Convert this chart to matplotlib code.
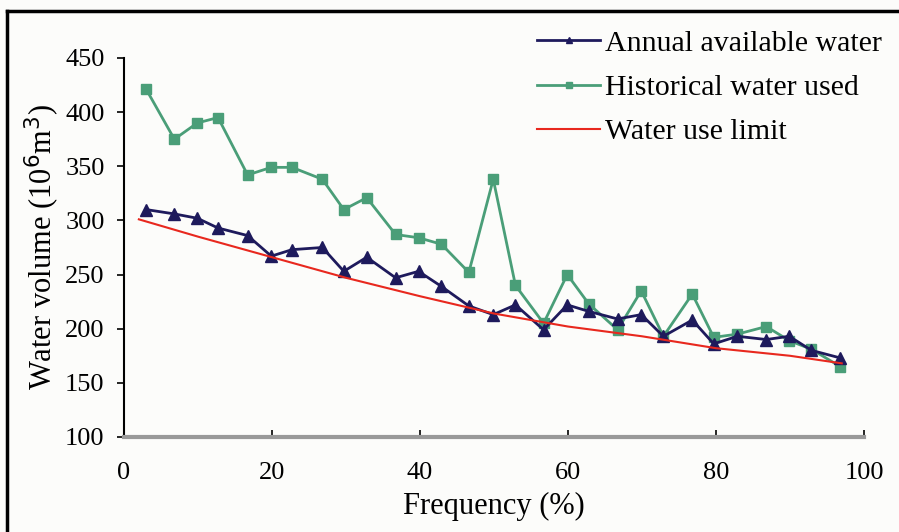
import matplotlib.pyplot as plt
from matplotlib.lines import Line2D

plt.rcParams['font.family'] = ['Liberation Serif', 'DejaVu Serif']

# frequency (%) of each year
freq = [3, 6.8, 9.9, 12.7, 16.7, 19.9, 22.7, 26.8, 29.7, 32.8, 36.7, 39.8, 42.9, 46.6, 49.9,
        52.9, 56.7, 59.9, 62.8, 66.7, 69.9, 72.9, 76.8, 79.7, 82.9, 86.8, 89.9, 92.9, 96.8]

annual = [310, 306, 302, 293, 286, 267, 273, 275, 253, 266, 247, 253, 239, 221, 213,
          222, 199, 222, 216, 209, 213, 193, 208, 186, 193, 190, 193, 180, 173]

historical = [421, 375, 390, 395, 342, 349, 349, 338, 310, 321, 287, 284, 278, 252, 338,
              240, 205, 250, 223, 199, 235, 193, 232, 192, 195, 202, 189, 181, 165]

limit_freq = [2, 10, 20, 30, 40, 50, 60, 70, 80, 90, 97]
limit = [301, 285, 266, 247, 230, 214, 202, 193, 182, 175, 168]

navy = '#1e1a5c'
green = '#4a9e78'
red = '#e8281e'

fig = plt.figure(figsize=(8.99, 5.32), dpi=100, facecolor='#fcfcfa')
ax = fig.add_axes([0.138, 0.1786, 0.823, 0.7124])
ax.set_facecolor('#fcfcfa')

ax.plot(freq, annual, color=navy, lw=2, marker='^', ms=8, label='Annual available water', zorder=3)
ax.plot(freq, historical, color=green, lw=2, marker='s', ms=7, label='Historical water used', zorder=2)
ax.plot(limit_freq, limit, color=red, lw=1.5, label='Water use limit', zorder=4)

ax.set_xlim(0, 100)
ax.set_ylim(100, 450)
ax.set_xticks([0, 20, 40, 60, 80, 100])
ax.set_yticks(range(100, 451, 50))

for s in ['top', 'right']:
    ax.spines[s].set_visible(False)
ax.spines['left'].set_color('black')
ax.spines['left'].set_linewidth(1.5)
ax.spines['bottom'].set_color('#999999')
ax.spines['bottom'].set_linewidth(3)

ax.tick_params(axis='y', direction='out', length=5, width=1.2, labelsize=19, pad=9)
ax.tick_params(axis='x', direction='in', length=5, width=1.2, color='black', labelsize=19, pad=18)

ax.set_xlabel('Frequency (%)', fontsize=22, labelpad=6)
ax.set_ylabel('Water volume (10$^6$m$^3$)', fontsize=22, labelpad=2)

ax.legend(loc='upper right', bbox_to_anchor=(1.06, 1.145), frameon=False, fontsize=21.5,
          handlelength=2.1, handletextpad=0.15, labelspacing=0.58, markerscale=0.6)

# frame around the picture (left and top edges)
fig.add_artist(Line2D([0.008, 0.008], [0, 0.98], transform=fig.transFigure, color='black', lw=2.5))
fig.add_artist(Line2D([0.008, 1.0], [0.98, 0.98], transform=fig.transFigure, color='black', lw=2.5))

fig.savefig('out.png', dpi=100, facecolor=fig.get_facecolor())
